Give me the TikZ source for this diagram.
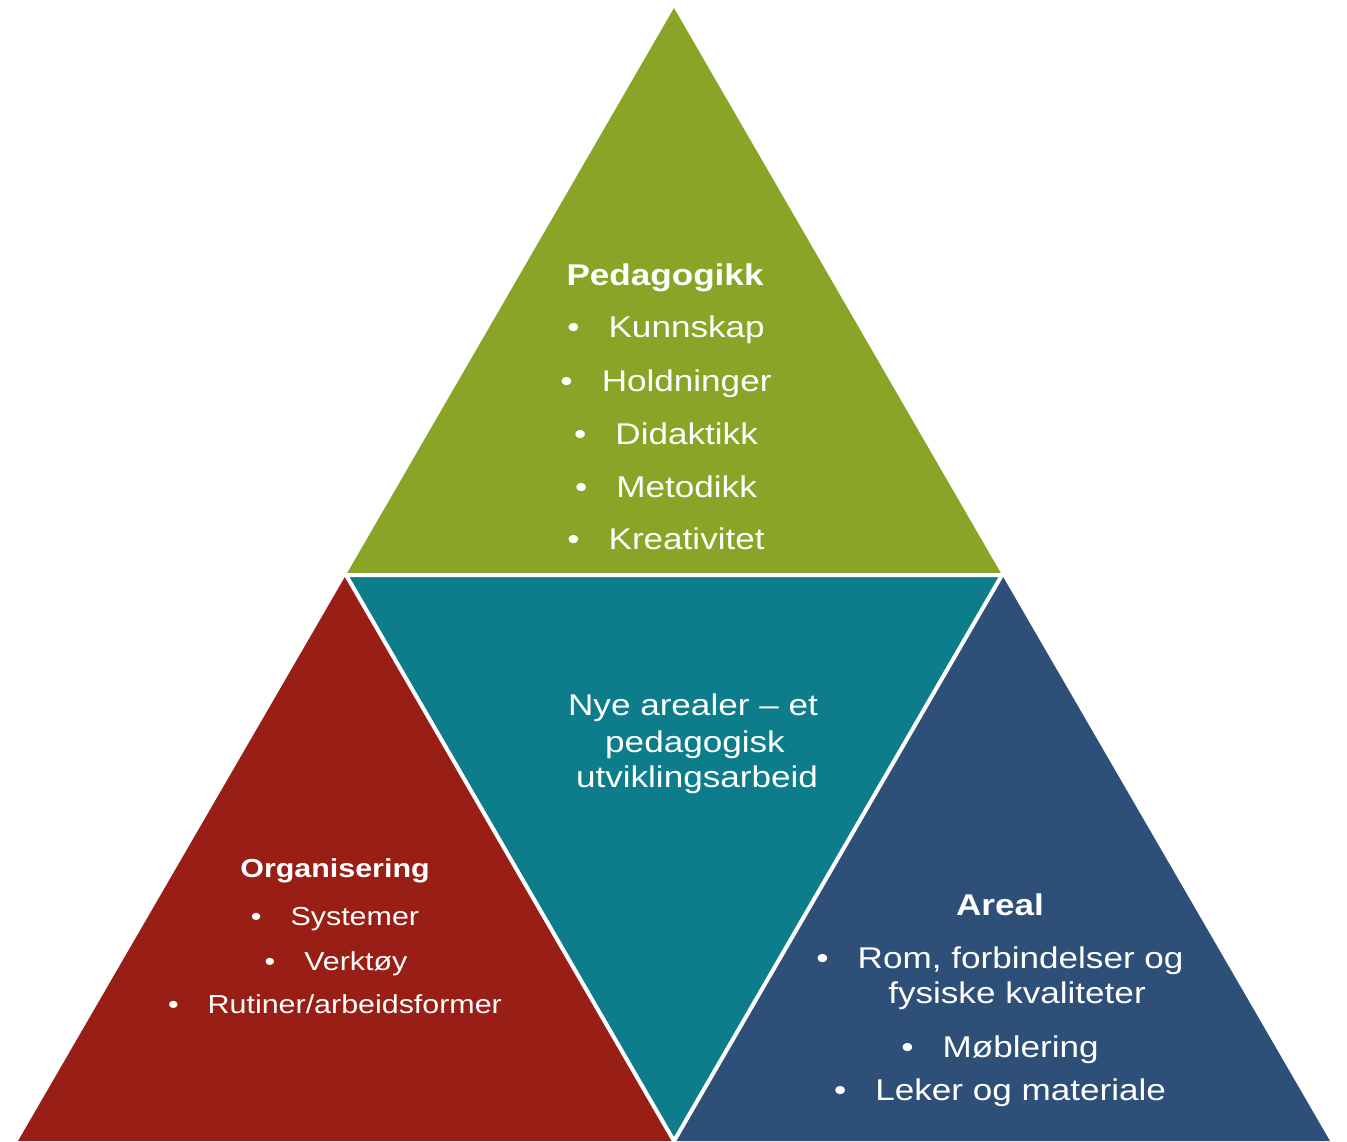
\documentclass[tikz,border=0pt]{standalone}
\usepackage{fontspec}
\setmainfont{Liberation Sans}[FakeStretch=1.17]

\definecolor{pedgreen}{HTML}{8AA428}
\definecolor{orgred}{HTML}{981E16}
\definecolor{midteal}{HTML}{0D7C8B}
\definecolor{areblue}{HTML}{2E5078}

\newcommand{\bul}[1]{\textbullet\hspace{29pt}#1}

\begin{document}
\begin{tikzpicture}[
    x=1pt, y=-1pt,
    every node/.style={text=white},
    gap/.style={draw=white, line width=4pt, line join=miter},
    title/.style={anchor=base, font=\bfseries\fontsize{30}{35}\selectfont},
    item/.style={anchor=base, font=\fontsize{30}{35}\selectfont},
    small/.style={font=\fontsize{26}{30}\selectfont},
    smalltitle/.style={font=\bfseries\fontsize{26}{30}\selectfont}
]
    \useasboundingbox (0,0) rectangle (1347,1141);

    % --- CORNERS ---
    \coordinate (Top) at (674,8);       % apex
    \coordinate (BL) at (18,1141);      % bottom left
    \coordinate (BR) at (1330,1141);    % bottom right
    \coordinate (ML) at (346,575);      % middle left
    \coordinate (MR) at (1002,575);     % middle right
    \coordinate (BM) at (674,1141);     % bottom middle

    % --- PIECES ---
    \fill[pedgreen] (Top) -- (ML) -- (MR) -- cycle;
    \fill[orgred] (ML) -- (BL) -- (BM) -- cycle;
    \fill[areblue] (MR) -- (BM) -- (BR) -- cycle;
    \fill[midteal] (ML) -- (MR) -- (BM) -- cycle;

    % white seams round the middle piece
    \draw[gap] (ML) -- (MR) -- (BM) -- cycle;

    % --- TOP: Pedagogikk ---
    \node[title] (ped) at (665,285) {Pedagogikk};
    \node[item] (ped1) at (666,337) {\bul{Kunnskap}};
    \node[item] (ped2) at (666,391) {\bul{Holdninger}};
    \node[item] (ped3) at (666,444) {\bul{Didaktikk}};
    \node[item] (ped4) at (666,497) {\bul{Metodikk}};
    \node[item] (ped5) at (666,549) {\bul{Kreativitet}};

    % --- MIDDLE ---
    \node[item] (mid1) at (693,715) {Nye arealer – et};
    \node[item] (mid2) at (695,752) {pedagogisk};
    \node[item] (mid3) at (697,787) {utviklingsarbeid};

    % --- LEFT: Organisering ---
    \node[title, smalltitle] (org) at (335,877) {Organisering};
    \node[item, small] (org1) at (335,925) {\bul{Systemer}};
    \node[item, small] (org2) at (336,970) {\bul{Verktøy}};
    \node[item, small] (org3) at (335,1013) {\bul{Rutiner/arbeidsformer}};

    % --- RIGHT: Areal ---
    \node[title] (are) at (1000,915) {Areal};
    \node[item] (are1) at (1000,968) {\bul{Rom, forbindelser og}};
    \node[item] (are2) at (1017,1003) {fysiske kvaliteter};
    \node[item] (are3) at (1000,1057) {\bul{Møblering}};
    \node[item] (are4) at (1000,1100) {\bul{Leker og materiale}};

\end{tikzpicture}
\end{document}
